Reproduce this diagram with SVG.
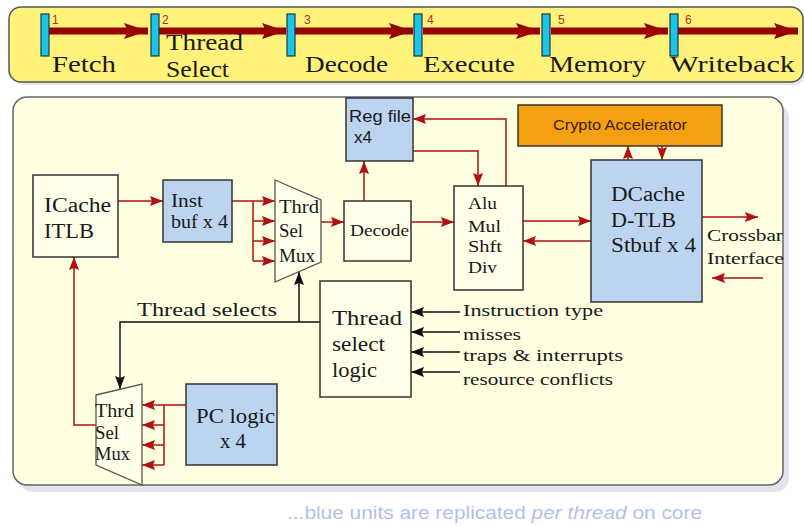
<svg xmlns="http://www.w3.org/2000/svg" width="804" height="526" viewBox="0 0 804 526">
<defs>
<style>
.box{fill:#ffffea;stroke:#333;stroke-width:1.5}
.blue{fill:#bcd4f0;stroke:#333;stroke-width:1.5}
.mux{fill:#ffffea;stroke:#555;stroke-width:1.3}
.bar{fill:#1cc4e8;stroke:#1a3a40;stroke-width:1.2}
.sr{font-family:'Liberation Serif','DejaVu Serif',serif;fill:#1a1a1a}
.ss{font-family:'Liberation Sans',Arial,sans-serif}
.dk{fill:#1a1a1a}
.num{font-family:'Liberation Sans',Arial,sans-serif;font-size:12px;fill:#b03020}
.r{fill:none;stroke:#b01010;stroke-width:1.5;marker-end:url(#ar)}
.rl{fill:none;stroke:#b01010;stroke-width:1.5}
.k{fill:none;stroke:#111;stroke-width:1.5;marker-end:url(#ak)}
.stg{stroke:#990000;stroke-width:7;marker-end:url(#as)}
</style>
<marker id="ar" markerUnits="userSpaceOnUse" markerWidth="13" markerHeight="10" refX="13" refY="5" orient="auto"><path d="M0,0 L13,5 L0,10 L2,5 z" fill="#b01010"/></marker>
<marker id="ak" markerUnits="userSpaceOnUse" markerWidth="13" markerHeight="10" refX="13" refY="5" orient="auto"><path d="M0,0 L13,5 L0,10 L2,5 z" fill="#111"/></marker>
<marker id="as" markerUnits="userSpaceOnUse" markerWidth="24" markerHeight="16" refX="24" refY="8" orient="auto"><path d="M0,0 L24,8 L0,16 L4,8 z" fill="#990000"/></marker>
</defs>

<g id="banner">
<rect x="12" y="10" width="794" height="75" rx="12" fill="#e6e6f2"/>
<rect x="9" y="7" width="794" height="75" rx="12" fill="#fff27a" stroke="#555" stroke-width="1.5"/>
</g>

<g id="stage-arrows">
<line class="stg" x1="49" y1="31" x2="148" y2="31"/>
<line class="stg" x1="159" y1="31" x2="286" y2="31"/>
<line class="stg" x1="295" y1="31" x2="413" y2="31"/>
<line class="stg" x1="423" y1="31" x2="540" y2="31"/>
<line class="stg" x1="551" y1="31" x2="668" y2="31"/>
<line class="stg" x1="678" y1="31" x2="798" y2="31"/>
</g>

<g id="stage1"><rect class="bar" x="41" y="14" width="8" height="42"/><text class="num" x="52" y="24">1</text><text class="sr" x="52" y="72" font-size="24" textLength="64" lengthAdjust="spacingAndGlyphs">Fetch</text></g>
<g id="stage2"><rect class="bar" x="151" y="14" width="8" height="42"/><text class="num" x="162" y="24">2</text><text class="sr" x="166" y="50" font-size="23" textLength="77" lengthAdjust="spacingAndGlyphs">Thread</text><text class="sr" x="166" y="77" font-size="23" textLength="63" lengthAdjust="spacingAndGlyphs">Select</text></g>
<g id="stage3"><rect class="bar" x="287" y="14" width="8" height="42"/><text class="num" x="304" y="24">3</text><text class="sr" x="305" y="72" font-size="24" textLength="83" lengthAdjust="spacingAndGlyphs">Decode</text></g>
<g id="stage4"><rect class="bar" x="414" y="14" width="8" height="42"/><text class="num" x="427" y="24">4</text><text class="sr" x="423" y="72" font-size="24" textLength="92" lengthAdjust="spacingAndGlyphs">Execute</text></g>
<g id="stage5"><rect class="bar" x="542" y="14" width="8" height="42"/><text class="num" x="558" y="24">5</text><text class="sr" x="549" y="72" font-size="24" textLength="97" lengthAdjust="spacingAndGlyphs">Memory</text></g>
<g id="stage6"><rect class="bar" x="670" y="14" width="8" height="42"/><text class="num" x="685" y="24">6</text><text class="sr" x="670" y="72" font-size="24" textLength="125" lengthAdjust="spacingAndGlyphs">Writeback</text></g>

<g id="panel">
<rect x="19" y="104" width="770" height="388" rx="14" fill="#e4e4f0"/>
<rect x="13" y="97" width="770" height="388" rx="14" fill="#ffffe2" stroke="#666" stroke-width="1.5"/>
</g>

<g id="connectors">
<path class="r" d="M118,201 H163"/>
<path class="r" d="M232,201 H275"/>
<path class="rl" d="M253,201 V261"/>
<path class="r" d="M253,221 H275"/>
<path class="r" d="M253,241 H275"/>
<path class="r" d="M253,261 H275"/>
<path class="r" d="M321,222 H344"/>
<path class="r" d="M364,201 V161"/>
<path class="r" d="M411,222 H454"/>
<path class="r" d="M506,186 V119 H413"/>
<path class="r" d="M413,151 H478 V186"/>
<path class="r" d="M523,221 H591"/>
<path class="r" d="M591,241 H523"/>
<path class="r" d="M628,160 V146"/>
<path class="r" d="M662,146 V160"/>
<path class="r" d="M702,217 H758"/>
<path class="r" d="M763,278 H712"/>
<path class="k" d="M320,322 H120 V389"/>
<path class="k" d="M299,322 V272"/>
<path class="k" d="M460,312 H411"/>
<path class="k" d="M460,332 H411"/>
<path class="k" d="M460,352 H411"/>
<path class="k" d="M460,372 H411"/>
<path class="r" d="M186,405 H142"/>
<path class="rl" d="M164,405 V465"/>
<path class="r" d="M164,425 H142"/>
<path class="r" d="M164,445 H142"/>
<path class="r" d="M164,465 H142"/>
<path class="r" d="M96,425 H74 V257"/>
</g>

<g id="icache"><rect class="box" x="33" y="175" width="85" height="82"/><text class="sr" x="44" y="212" font-size="20" textLength="67" lengthAdjust="spacingAndGlyphs">ICache</text><text class="sr" x="44" y="238" font-size="20" textLength="50" lengthAdjust="spacingAndGlyphs">ITLB</text></g>

<g id="instbuf"><rect class="blue" x="163" y="180" width="69" height="62"/><text class="sr" x="171" y="207" font-size="19" textLength="32" lengthAdjust="spacingAndGlyphs">Inst</text><text class="sr" x="171" y="228" font-size="19" textLength="57" lengthAdjust="spacingAndGlyphs">buf x 4</text></g>

<g id="mux-top"><polygon class="mux" points="275,180 321,200 321,262 275,282"/><text class="sr" x="279" y="213" font-size="18" textLength="40" lengthAdjust="spacingAndGlyphs">Thrd</text><text class="sr" x="279" y="237" font-size="18" textLength="24" lengthAdjust="spacingAndGlyphs">Sel</text><text class="sr" x="279" y="262" font-size="18" textLength="36" lengthAdjust="spacingAndGlyphs">Mux</text></g>

<g id="decode"><rect class="box" x="344" y="201" width="67" height="60"/><text class="sr" x="350" y="236" font-size="17" textLength="59" lengthAdjust="spacingAndGlyphs">Decode</text></g>

<g id="regfile"><rect class="blue" x="346" y="98" width="67" height="63"/><text class="ss dk" x="349" y="122" font-size="17" textLength="62" lengthAdjust="spacingAndGlyphs">Reg file</text><text class="ss dk" x="354" y="143" font-size="17">x4</text></g>

<g id="alu"><rect class="box" x="454" y="186" width="69" height="104"/><text class="sr" x="468" y="209" font-size="16" textLength="29" lengthAdjust="spacingAndGlyphs">Alu</text><text class="sr" x="468" y="232" font-size="16" textLength="33" lengthAdjust="spacingAndGlyphs">Mul</text><text class="sr" x="468" y="252" font-size="16" textLength="34" lengthAdjust="spacingAndGlyphs">Shft</text><text class="sr" x="468" y="273" font-size="16" textLength="29" lengthAdjust="spacingAndGlyphs">Div</text></g>

<g id="crypto"><rect x="518" y="105" width="204" height="41" fill="#f5a010" stroke="#333" stroke-width="1.5"/><text class="ss" x="553" y="130" font-size="14" fill="#3a2000" textLength="134" lengthAdjust="spacingAndGlyphs">Crypto Accelerator</text></g>

<g id="dcache"><rect class="blue" x="591" y="160" width="111" height="142"/><text class="sr" x="611" y="201" font-size="20" textLength="74" lengthAdjust="spacingAndGlyphs">DCache</text><text class="sr" x="611" y="227" font-size="20" textLength="65" lengthAdjust="spacingAndGlyphs">D-TLB</text><text class="sr" x="611" y="252" font-size="20" textLength="85" lengthAdjust="spacingAndGlyphs">Stbuf x 4</text></g>

<g id="crossbar"><text class="sr" x="707" y="241" font-size="16" textLength="76" lengthAdjust="spacingAndGlyphs">Crossbar</text><text class="sr" x="707" y="264" font-size="16" textLength="77" lengthAdjust="spacingAndGlyphs">Interface</text></g>

<g id="threadselect"><rect class="box" x="320" y="281" width="91" height="116"/><text class="sr" x="332" y="325" font-size="21" textLength="70" lengthAdjust="spacingAndGlyphs">Thread</text><text class="sr" x="332" y="351" font-size="21" textLength="53" lengthAdjust="spacingAndGlyphs">select</text><text class="sr" x="332" y="377" font-size="21" textLength="45" lengthAdjust="spacingAndGlyphs">logic</text></g>

<g id="labels"><text class="sr" x="137" y="316" font-size="19" textLength="140" lengthAdjust="spacingAndGlyphs">Thread selects</text><text class="sr" x="463" y="316" font-size="17" textLength="140" lengthAdjust="spacingAndGlyphs">Instruction type</text><text class="sr" x="463" y="340" font-size="17" textLength="58" lengthAdjust="spacingAndGlyphs">misses</text><text class="sr" x="463" y="361" font-size="17" textLength="160" lengthAdjust="spacingAndGlyphs">traps &amp; interrupts</text><text class="sr" x="463" y="385" font-size="17" textLength="150" lengthAdjust="spacingAndGlyphs">resource conflicts</text></g>

<g id="mux-bottom"><polygon class="mux" points="96,395 142,384 142,485 96,465"/><text class="sr" x="95" y="417" font-size="18" textLength="39" lengthAdjust="spacingAndGlyphs">Thrd</text><text class="sr" x="95" y="439" font-size="18" textLength="24" lengthAdjust="spacingAndGlyphs">Sel</text><text class="sr" x="95" y="460" font-size="18" textLength="35" lengthAdjust="spacingAndGlyphs">Mux</text></g>

<g id="pclogic"><rect class="blue" x="186" y="384" width="91" height="81"/><text class="sr" x="196" y="423" font-size="20" textLength="79" lengthAdjust="spacingAndGlyphs">PC logic</text><text class="sr" x="220" y="448" font-size="20" textLength="26" lengthAdjust="spacingAndGlyphs">x 4</text></g>

<g id="footer"><text class="ss" x="287" y="519" font-size="17.5" fill="#b4bfec" textLength="415" lengthAdjust="spacingAndGlyphs">...blue units are replicated <tspan font-style="italic">per thread</tspan> on core</text></g>
</svg>
